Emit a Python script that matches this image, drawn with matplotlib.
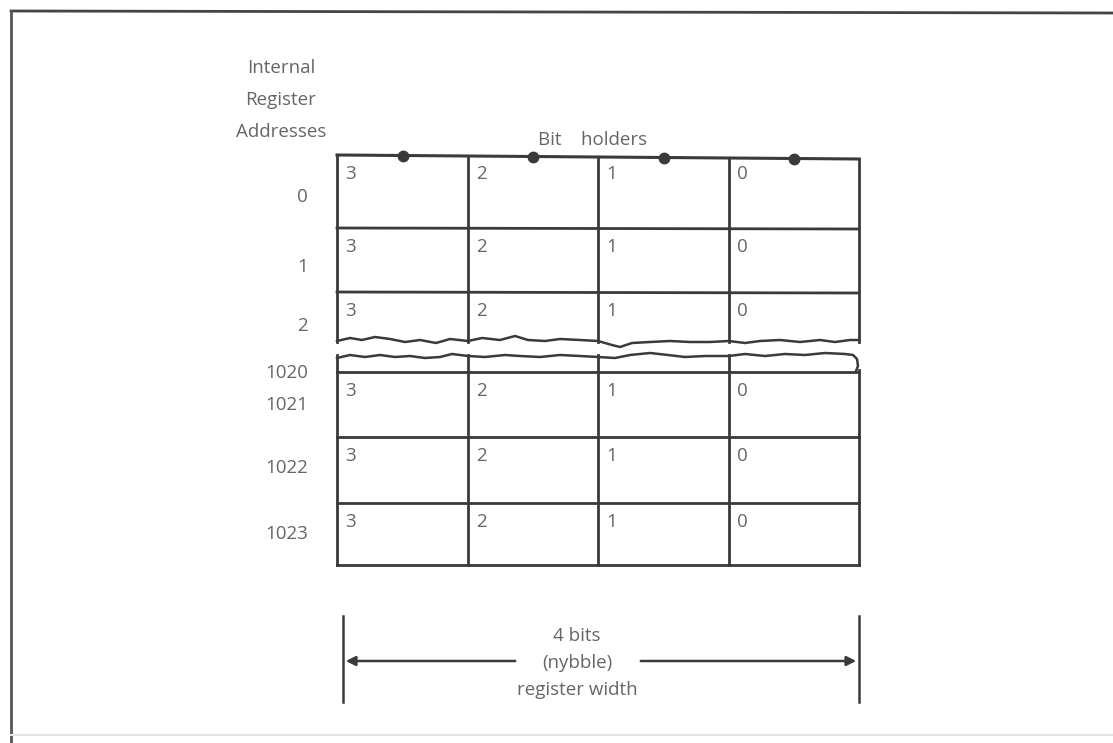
import matplotlib.pyplot as plt
from matplotlib.patches import FancyArrowPatch

plt.rcParams['font.family'] = ['Open Sans', 'DejaVu Sans']

# register contents
addresses = ['0', '1', '2', '1020', '1021', '1022', '1023']
bit_labels = ['3', '2', '1', '0']
header_lines = ['Internal', 'Register', 'Addresses']
width_lines = ['4 bits', '(nybble)', 'register width']

# layout (pixel coordinates, y down)
col_edges = [337, 468, 598, 729, 859]
upper_rows = [155, 228, 292]          # tops of rows 0, 1, 2
upper_bottom = 342                     # torn edge under row 2
strip_top = 356                        # torn edge above 1020
lower_rows = [372, 437, 503]           # tops of rows 1021..1023
lower_bottom = 565
addr_y = [197, 267, 326, 373, 405, 468, 534]

# hand-traced torn edges: (x, y)
tear_upper = [(337, 341), (350, 338), (362, 340), (375, 337), (390, 339), (405, 342),
              (420, 340), (436, 343), (450, 339), (468, 341), (482, 338), (500, 340),
              (515, 336), (528, 340), (545, 341), (560, 339), (580, 340), (598, 341),
              (612, 345), (620, 347), (632, 343), (650, 342), (670, 341), (690, 342),
              (710, 342), (729, 341), (745, 343), (760, 341), (780, 340), (800, 342),
              (820, 340), (835, 342), (850, 340), (859, 340)]
tear_lower = [(337, 358), (350, 355), (365, 357), (380, 355), (395, 357), (410, 356),
              (425, 358), (440, 357), (452, 354), (468, 356), (485, 357), (505, 355),
              (520, 356), (540, 357), (560, 355), (580, 356), (598, 357), (615, 358),
              (630, 355), (650, 353), (668, 355), (685, 357), (705, 356), (729, 356),
              (745, 354), (765, 356), (785, 354), (805, 355), (825, 353), (845, 354),
              (853, 355), (857, 359), (858, 366), (856, 371)]

ink = '#3a3a3a'
txt = '#666666'
fs = 13.5

fig = plt.figure(figsize=(11.13, 7.43), dpi=100)
ax = fig.add_axes([0, 0, 1, 1])
ax.set_xlim(0, 1113)
ax.set_ylim(743, 0)
ax.axis('off')

# page frame
ax.plot([11, 1113], [11, 13], color='#444444', lw=2)
ax.plot([11, 11], [11, 743], color='#555555', lw=2)
ax.plot([11, 1113], [735, 735], color='#e2e2e2', lw=1.5)

def top_y(x):
    # top edge is slightly tilted
    return 155 + (x - col_edges[0]) / (col_edges[-1] - col_edges[0]) * 4

# upper block
ax.plot([col_edges[0], col_edges[-1]], [top_y(col_edges[0]), top_y(col_edges[-1])],
        color=ink, lw=2.2)
for y in upper_rows[1:]:
    ax.plot([col_edges[0], col_edges[-1]], [y, y + 1], color=ink, lw=2)
for x in col_edges:
    ax.plot([x, x], [top_y(x), upper_bottom], color=ink, lw=2)
ax.plot(*zip(*tear_upper), color=ink, lw=1.8)

# lower block
ax.plot(*zip(*tear_lower), color=ink, lw=1.8)
for x in col_edges[:-1]:
    ax.plot([x, x], [strip_top - 1, lower_bottom], color=ink, lw=2)
ax.plot([col_edges[-1], col_edges[-1]], [370, lower_bottom], color=ink, lw=2)
for y in lower_rows + [lower_bottom]:
    ax.plot([col_edges[0], col_edges[-1]], [y, y], color=ink, lw=2)

# bit holder dots
for i in range(len(bit_labels)):
    cx = (col_edges[i] + col_edges[i + 1]) / 2
    ax.plot(cx, top_y(cx), 'o', color=ink, ms=7.5)
ax.text(538, 140, 'Bit    holders', fontsize=fs, color=txt, ha='left', va='center')

# bit numbers in each cell
for top in upper_rows + lower_rows:
    for i, b in enumerate(bit_labels):
        ax.text(col_edges[i] + 8, top + 19, b, fontsize=fs, color=txt,
                ha='left', va='center')

# addresses
for a, y in zip(addresses, addr_y):
    ax.text(308, y, a, fontsize=fs, color=txt, ha='right', va='center')
for k, line in enumerate(header_lines):
    ax.text(281, 68 + k * 32, line, fontsize=fs, color=txt, ha='center', va='center')

# register width dimension
for x in (col_edges[0] + 6, col_edges[-1]):
    ax.plot([x, x], [616, 702], color=ink, lw=1.8)
arrow_kw = dict(arrowstyle='-|>', mutation_scale=14, color=ink, lw=1.8)
ax.add_patch(FancyArrowPatch((518, 661), (col_edges[0] + 6, 661), **arrow_kw))
ax.add_patch(FancyArrowPatch((638, 661), (col_edges[-1], 661), **arrow_kw))
for k, line in enumerate(width_lines):
    ax.text(577, 636 + k * 27, line, fontsize=fs, color=txt, ha='center', va='center')

fig.savefig('out.png', dpi=100)
